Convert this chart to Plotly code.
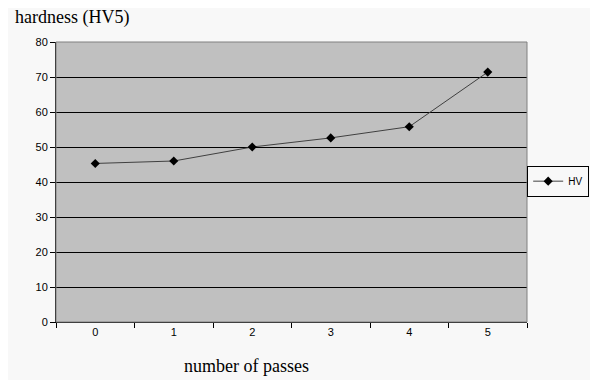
import plotly.graph_objects as go

passes = ["0", "1", "2", "3", "4", "5"]
hv = [45.3, 46.0, 50.0, 52.6, 55.8, 71.4]
y_ticks = [0, 10, 20, 30, 40, 50, 60, 70, 80]

fig = go.Figure()
fig.add_trace(go.Scatter(
    x=passes, y=hv, mode="lines+markers", name="HV",
    line=dict(color="#404040", width=1),
    marker=dict(symbol="diamond", size=7, color="#000000"),
))

fig.update_layout(
    width=590, height=372,
    margin=dict(l=48, r=71, t=34, b=58, autoexpand=False),
    paper_bgcolor="#F8F8F8", plot_bgcolor="#C0C0C0",
    font=dict(family="Liberation Sans, Arial, sans-serif", size=11, color="#000000"),
    showlegend=True,
    legend=dict(x=1.132, y=0.503, xanchor="right", yanchor="middle",
                bgcolor="#F8F8F8", bordercolor="#000000", borderwidth=1,
                itemwidth=30, font=dict(size=10), tracegroupgap=0),
)
fig.add_annotation(text="hardness (HV5)", xref="paper", yref="paper",
                   x=-0.092, y=1.086, xanchor="left", yanchor="middle",
                   showarrow=False,
                   font=dict(family="Liberation Serif, Times New Roman, serif", size=18))
fig.add_annotation(text="number of passes", xref="paper", yref="paper",
                   x=0.4055, y=-0.157, xanchor="center", yanchor="middle",
                   showarrow=False,
                   font=dict(family="Liberation Serif, Times New Roman, serif", size=18))

fig.update_xaxes(type="category", range=[-0.5, 5.5], tickson="boundaries",
                 ticks="outside", ticklen=5, tickcolor="#000000",
                 showgrid=False, showline=True, linecolor="#000000", linewidth=1,
                 mirror=False, tickfont=dict(size=11))
fig.update_yaxes(range=[0, 80], tickvals=y_ticks, ticks="outside", ticklen=5,
                 tickcolor="#000000", showgrid=True, gridcolor="#000000", gridwidth=1,
                 showline=True, linecolor="#000000", linewidth=1, zeroline=False,
                 tickfont=dict(size=11))
fig.add_shape(type="rect", xref="paper", yref="paper", x0=0, y0=0, x1=1, y1=1,
              line=dict(color="#808080", width=1), layer="above")

fig.write_html("out.html")
